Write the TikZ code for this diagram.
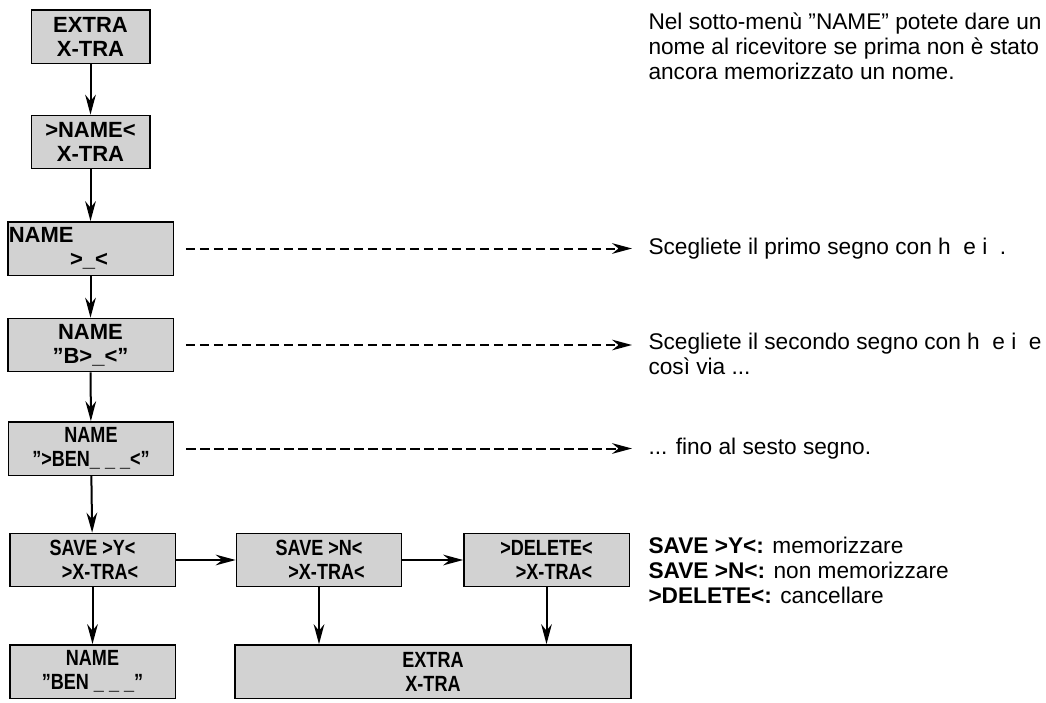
\documentclass[tikz,border=0pt]{standalone}
\usepackage{fontspec}
\setmainfont{Liberation Sans}
\usetikzlibrary{arrows.meta}
\definecolor{boxgray}{RGB}{210,210,210}
\newcommand{\narrow}[1]{\scalebox{0.82}[1]{#1}}
\newcommand{\dq}{\symbol{34}}
\tikzset{every picture/.style={line width=0.75pt}}
\tikzset{
  box/.style={draw, fill=boxgray, line width=1pt, minimum height=40pt, inner sep=2pt,
    align=center, font=\bfseries\fontsize{16.5}{18}\selectfont},
  flow/.style={line width=1.5pt, -{Stealth[length=15pt,width=8pt]}},
  hint/.style={line width=1.5pt, dash pattern=on 7pt off 3.5pt, -{Stealth[length=15pt,width=8pt]}},
  note/.style={anchor=west, inner sep=0pt, align=left, font=\fontsize{17}{18.75}\selectfont}
}

\begin{document}
\begin{tikzpicture}[x=0.75pt,y=0.75pt,yscale=-1,xscale=1]
	\useasboundingbox (0,0) rectangle (1046,703);
	
	% left column
	\node [box, minimum width=89pt] (extra) at (90.5,36.5) {EXTRA\\X-TRA};
	\node [box, minimum width=89pt] (name) at (90.5,142) {>NAME<\\X-TRA};
	\node [box, minimum width=124pt, align=left] (first) at (90.5,248.5) {\hspace*{-2pt}NAME\hspace*{72pt}\\\hspace*{44pt}>\_<};
	\node [box, minimum width=124pt] (second) at (90.5,345) {NAME\\\dq B>\_<\dq};
	\node [box, minimum width=124pt] (sixth) at (91,448.5) {\narrow{NAME}\\\narrow{\dq>BEN\_ \_ \_<\dq}};
	\node [box, minimum width=124pt] (savey) at (92.5,560) {\narrow{SAVE >Y<}\\\narrow{\ \ \ >X-TRA<}};
	\node [box, minimum width=124pt] (saven) at (319,560) {\narrow{SAVE >N<}\\\narrow{\ \ \ >X-TRA<}};
	\node [box, minimum width=124pt] (delete) at (546.5,560) {\narrow{>DELETE<}\\\narrow{\ \ \ >X-TRA<}};
	\node [box, minimum width=124pt] (benname) at (92.5,671.5) {\narrow{NAME}\\\narrow{\dq BEN \_ \_ \_\dq}};
	\node [box, minimum width=297pt] (back) at (433,671.5) {\narrow{EXTRA}\\\narrow{X-TRA}};
	
	\draw [flow] (extra) -- (name);
	\draw [flow] (name) -- (first);
	\draw [flow] (first) -- (second);
	\draw [flow] (second) -- (sixth);
	\draw [flow] (sixth) -- (savey);
	\draw [flow] (savey) -- (benname);
	\draw [flow] (savey) -- (saven);
	\draw [flow] (saven) -- (delete);
	\draw [flow] (saven.south) -- (saven.south |- back.north);
	\draw [flow] (delete.south) -- (delete.south |- back.north);
	
	% hints on the right
	\coordinate (h1) at (632,248.5);
	\coordinate (h2) at (632,345);
	\coordinate (h3) at (632,448.5);
	\draw [hint] (first.east) ++(12,0) -- (h1);
	\draw [hint] (second.east) ++(12,0) -- (h2);
	\draw [hint] (sixth.east) ++(12,0) -- (h3);
	
	\node [note] (intro) at (648,46) {Nel sotto-menù \dq NAME\dq\ potete dare un\\nome al ricevitore se prima non è stato\\ancora memorizzato un nome.};
	\node [note] (t1) at (648,248.5) {Scegliete il primo segno con {\rmfamily h\ \ e i\ \ }.};
	\node [note, anchor=north west] (t2) at (648,333) {Scegliete il secondo segno con {\rmfamily h\ \ e i\ \ }e\\così via ...};
	\node [note] (t3) at (648,448.5) {... fino al sesto segno.};
	\node [note] (legend) at (648,570) {\textbf{SAVE >Y<:} memorizzare\\\textbf{SAVE >N<:} non memorizzare\\\textbf{>DELETE<:} cancellare};
\end{tikzpicture}
\end{document}
